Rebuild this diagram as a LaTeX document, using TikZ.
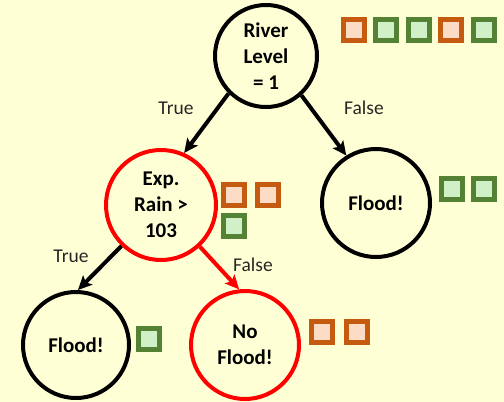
\documentclass[tikz,border=0pt]{standalone}
\usepackage{fontspec}
\setmainfont{Carlito}
\usetikzlibrary{arrows.meta, positioning}

\definecolor{bgyellow}{HTML}{FFFFD6}
\definecolor{orline}{HTML}{C55A11}
\definecolor{orfill}{HTML}{FDDCC6}
\definecolor{grline}{HTML}{548235}
\definecolor{grfill}{HTML}{D2F0C8}
\definecolor{labgray}{HTML}{262626}

\tikzset{
  test/.style={draw, circle, line width=4pt, inner sep=0pt, align=center,
    font=\fontsize{21}{26}\selectfont\bfseries},
  orbox/.style={draw=orline, fill=orfill, line width=5pt, minimum size=21pt, inner sep=0pt},
  grbox/.style={draw=grline, fill=grfill, line width=5pt, minimum size=21pt, inner sep=0pt},
  branch/.style={line width=4pt, -{Stealth[length=14pt, width=13pt, inset=3pt]}},
  edgelabel/.style={text=labgray, font=\fontsize{19.5}{23}\selectfont}
}

\begin{document}
\begin{tikzpicture}[x=1pt, y=-1pt]
    \fill[bgyellow] (0,0) rectangle (504,402);
    \useasboundingbox (0,0) rectangle (504,402);

    % decision nodes
    \node[test, minimum size=102pt] (river) at (266,56) {River\\Level\\= 1};
    \node[test, draw=red, minimum size=110pt] (rain) at (161,205) {Exp.\\Rain >\\103};
    \node[test, minimum size=108pt] (floodR) at (376,203) {Flood!};
    \node[test, minimum size=106pt] (floodL) at (76,345) {Flood!};
    \node[test, draw=red, minimum size=108pt] (noflood) at (245,345) {No\\Flood!};

    % samples beside each node
    \foreach \c [count=\i] in {orbox,grbox,grbox,orbox,grbox}
      \node[\c] (rs\i) at ({353.5+32.6*(\i-1)},29.5) {};
    \node[orbox] (es1) at (234,194.5) {};
    \node[orbox] (es2) at (268,194.5) {};
    \node[grbox] (es3) at (234,226) {};
    \node[grbox] (fs1) at (452,189) {};
    \node[grbox] (fs2) at (483.5,189) {};
    \node[grbox] (ls1) at (149,339) {};
    \node[orbox] (ns1) at (322,332) {};
    \node[orbox] (ns2) at (356.5,332) {};

    % branches
    \draw[branch] (river.225) -- (rain.66);
    \draw[branch] (river.-48) -- (floodR.122);
    \draw[branch] (rain.226) -- (floodL.88);
    \draw[branch, red] (rain.-47) -- (noflood.96);

    \node[edgelabel] (t1) at (176,108) {True};
    \node[edgelabel] (f1) at (364,108) {False};
    \node[edgelabel] (t2) at (71,256) {True};
    \node[edgelabel] (f2) at (253,265) {False};
\end{tikzpicture}
\end{document}
